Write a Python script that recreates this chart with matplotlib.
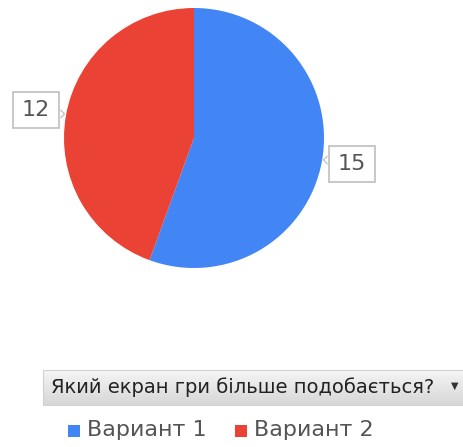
import matplotlib.pyplot as plt
import matplotlib.patches as patches
import numpy as np

labels = ['Вариант 1', 'Вариант 2']
values = [15, 12]
colors = ['#4285f4', '#ea4335']
question = 'Який екран гри більше подобається?'

W, H = 464, 447
fig = plt.figure(figsize=(W / 100, H / 100), dpi=100)
ax = fig.add_axes([0, 0, 1, 1])

cx, cy, r = 194, H - 138, 130
wedges, _ = ax.pie(values, colors=colors, startangle=90, counterclock=False,
                   center=(cx, cy), radius=r, frame=True,
                   wedgeprops=dict(linewidth=0))

ax.set_xlim(0, W)
ax.set_ylim(0, H)
ax.set_aspect('equal')
ax.axis('off')

# value callouts next to each slice, with a small notch toward the pie
callouts = [(352, H - 164, -1), (36, H - 110, 1)]
for val, (bx, by, side) in zip(values, callouts):
    ax.text(bx, by, str(val), ha='center', va='center', fontsize=16,
            color='#555555', zorder=4,
            bbox=dict(boxstyle='square,pad=0.38', facecolor='white',
                      edgecolor='#c4c4c4', linewidth=1.3))
    ex = bx + side * 24.5
    ny = by - 4 * side
    notch = [(ex, ny + 4), (ex + side * 4, ny), (ex, ny - 4)]
    ax.add_patch(patches.Polygon(notch, closed=False, facecolor='white',
                                 edgecolor='#c4c4c4', linewidth=1.0, zorder=5))

# header bar with gradient
grad = np.linspace(0.96, 0.84, 50).reshape(-1, 1)
ax.imshow(grad, cmap='gray', vmin=0, vmax=1, aspect='auto',
          extent=(43, W, H - 405, H - 370), zorder=1)
ax.add_patch(patches.Rectangle((43, H - 405), W - 43, 35, fill=False,
                               edgecolor='#d0d0d0', linewidth=0.8, zorder=2))
ax.text(51, H - 387, question, ha='left', va='center', fontsize=14,
        color='#222222', zorder=3)
ax.text(455, H - 386, '▼', ha='center', va='center', fontsize=7,
        color='#333333', zorder=3)

# legend
for lab, col, lx in zip(labels, colors, [68, 235]):
    ax.add_patch(patches.Rectangle((lx, H - 437), 12, 12, facecolor=col,
                                   edgecolor='none'))
    ax.text(lx + 19, H - 430, lab, ha='left', va='center', fontsize=16,
            color='#555555')

fig.savefig('out.png', dpi=100)
